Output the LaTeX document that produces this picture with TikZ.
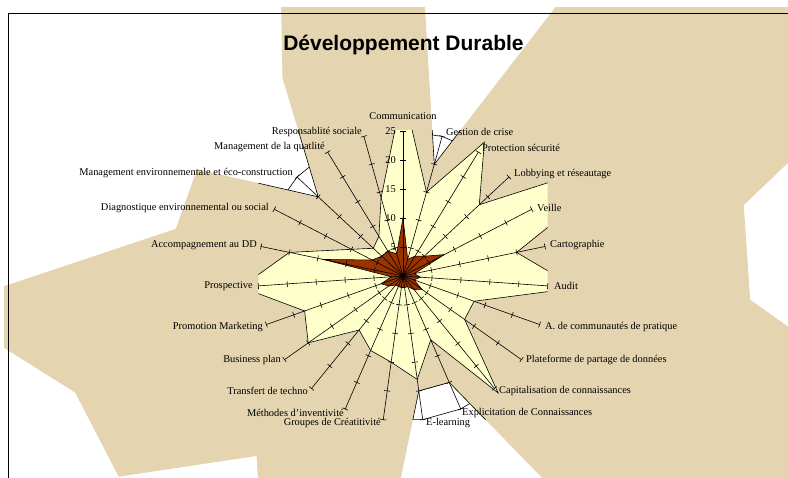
\documentclass[tikz,border=0pt]{standalone}
\usepackage{fontspec}
\setmainfont{Liberation Serif}
\newfontfamily\titlefont{Liberation Sans}
\usetikzlibrary{calc}
\definecolor{parchment}{RGB}{228,212,176}
\definecolor{paleyellow}{RGB}{255,255,204}
\definecolor{rust}{RGB}{153,51,0}
\def\drawaxis{\draw[black,line width=0.6pt]}
\def\drawseries{\draw[black,line width=0.6pt]}
\def\catnode{\node[inner sep=0pt,font=\fontsize{10.4}{12}\selectfont]}
% values of the three series, clockwise from Communication
\def\texvals{110,20,68,100,113,60,60,115,100,80,20,20,100,60,40,60,60,80,40,40,20,40,80}
\def\yelvals{32,15,27,18,46,20,30,13,13,26,12,18,15,14,12,20,18,28,20,10,7,8,14}
\def\brnvals{10,3,4,5,8,2,3,2,4,3,2,2,2,2,2,3,4,2,14,6,5,5,4}

\begin{document}
\begin{tikzpicture}[x=1pt,y=1pt]
\useasboundingbox (0,0) rectangle (788,478);
\coordinate (C) at (403,202);
\foreach \v [count=\i from 0] in \texvals {\coordinate (t\i) at ($(C)+(90-\i*360/23:\v*5.8)$);}
\foreach \v [count=\i from 0] in \yelvals {\coordinate (y\i) at ($(C)+(90-\i*360/23:\v*5.8)$);}
\foreach \v [count=\i from 0] in \brnvals {\coordinate (b\i) at ($(C)+(90-\i*360/23:\v*5.8)$);}
\foreach \i in {0,...,22} {\coordinate (a\i) at ($(C)+(90-\i*360/23:145)$);}
\coordinate (plotsw) at ($(C)+(-144.7,-143.7)$);
\coordinate (plotne) at ($(C)+(144.7,71.3)+(0,73.7)$);
% rings
\foreach \r in {5,10,...,25}
  \drawaxis ($(C)+(90:\r*5.8)$) \foreach \i in {1,...,22}{ -- ($(C)+(90-\i*360/23:\r*5.8)$)} -- cycle;
% series
\begin{scope}
\clip (4,0) rectangle (788,470);
\fill[parchment] (t0) \foreach \i in {1,...,22}{ -- (t\i)} -- cycle;
\end{scope}
\begin{scope}
\clip (plotsw) rectangle (plotne);
\drawseries (t0) \foreach \i in {1,...,22}{ -- (t\i)} -- cycle;
\drawseries[fill=paleyellow] (y0) \foreach \i in {1,...,22}{ -- (y\i)} -- cycle;
\end{scope}
\drawseries[fill=rust] (b0) \foreach \i in {1,...,22}{ -- (b\i)} -- cycle;
% axes with ticks
\foreach \i [evaluate=\i as \ang using 90-\i*360/23] in {0,...,22} {
  \drawaxis (C) -- (a\i);
  \foreach \r in {5,10,...,25}
    \drawaxis ($(C)+(\ang:\r*5.8)+(\ang+90:3)$) -- ($(C)+(\ang:\r*5.8)+(\ang-90:3)$);
}
\foreach \r in {5,10,...,25}
  \catnode[anchor=east] (s\r) at ($(C)+(-7,\r*5.8)$) {\r};
% category labels
\foreach \x/\y/\anc/\txt [count=\k from 0] in {
  403/362/center/Communication,
  446/346.3/west/Gestion de crise,
  482/330/west/Protection sécurité,
  514/304/west/Lobbying et réseautage,
  537/270/west/Veille,
  550/233/west/Cartographie,
  554/192/west/Audit,
  545/151/west/A. de communautés de pratique,
  526/118/west/Plateforme de partage de données,
  499/87/west/Capitalisation de connaissances,
  462/65/west/Explicitation de Connaissances,
  426/55/west/E-learning,
  381/55/east/Groupes de Créatitivité,
  344/65/east/Méthodes d'inventivité,
  308/87/east/Transfert de techno,
  281/118/east/Business plan,
  263/151/east/Promotion Marketing,
  253/192/east/Prospective,
  257/233/east/Accompagnement au DD,
  269/270/east/Diagnostique environnemental ou social,
  293/305/east/Management environnementale et éco-construction,
  325/331/east/Management de la quatlité,
  362/346.3/east/Responsablité sociale}
  \catnode[anchor=\anc] (lab\k) at (\x,\y) {\txt};
\node[font=\titlefont\bfseries\fontsize{21}{24}\selectfont] (title) at (403.5,433.5) {Développement Durable};
% chart frame
\draw[line width=0.8pt] (8,0) -- (8,465) -- (788,465);
\end{tikzpicture}
\end{document}
